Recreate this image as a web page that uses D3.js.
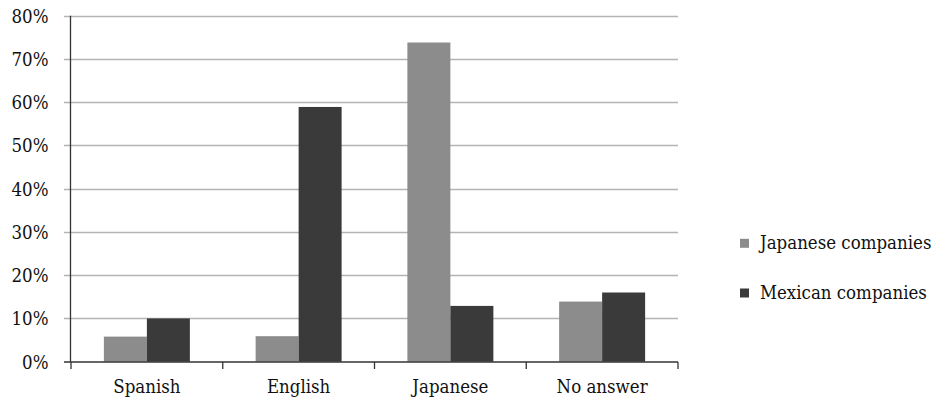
<!DOCTYPE html>
<html><head><meta charset="utf-8">
<script src="https://cdn.jsdelivr.net/npm/d3@7"></script>
<style>body{margin:0;background:#fff}svg{display:block}</style>
</head><body>
<script>
const categories = ["Spanish","English","Japanese","No answer"];
const seriesNames = ["Japanese companies","Mexican companies"];
const japaneseCompanies = [5.8, 5.9, 73.8, 13.9];
const mexicanCompanies = [10.0, 58.9, 12.9, 16.0];
const yTicks = [0,10,20,30,40,50,60,70,80];
const colors = ["#8c8c8c","#3a3a3a"];

const W=937,H=398;
const FS=18.5, SX=0.9;
const svg=d3.select("body").append("svg").attr("width",W).attr("height",H)
 .style("font-family","'DejaVu Serif', 'Liberation Serif', serif").attr("fill","#111");
const x=d3.scaleBand().domain(categories).range([71,678]).padding(0);
const y=d3.scaleLinear().domain([0,80]).range([361.7,15.7]);
const barW = x.bandwidth()*0.2833;

svg.append("g").selectAll("line").data(yTicks.filter(d=>d>0)).join("line")
 .attr("x1",64).attr("x2",678).attr("y1",d=>Math.round(y(d))+0.5).attr("y2",d=>Math.round(y(d))+0.5)
 .attr("stroke","#b4b4b4").attr("stroke-width",1.3);

const series=[japaneseCompanies,mexicanCompanies];
series.forEach((vals,si)=>{
 svg.append("g").selectAll("rect").data(categories).join("rect")
  .attr("x",(c)=>x(c)+x.bandwidth()/2+(si-1)*barW)
  .attr("width",barW)
  .attr("y",(c,i)=>y(vals[i]))
  .attr("height",(c,i)=>y(0)-y(vals[i]))
  .attr("fill",colors[si]);
});

svg.append("line").attr("x1",70.5).attr("x2",70.5).attr("y1",15.7).attr("y2",362).attr("stroke","#333").attr("stroke-width",1.3);
svg.append("line").attr("x1",64).attr("x2",678).attr("y1",362).attr("y2",362).attr("stroke","#333").attr("stroke-width",1.3);
const bounds=categories.map(c=>x(c)).concat([x.range()[1]]);
svg.append("g").selectAll("line").data(bounds).join("line")
 .attr("x1",d=>d).attr("x2",d=>d).attr("y1",362).attr("y2",369).attr("stroke","#333").attr("stroke-width",1.3);

svg.append("g").selectAll("text").data(yTicks).join("text")
 .attr("transform",d=>`translate(48.5,${y(d)+6.8}) scale(${SX},1)`)
 .attr("text-anchor","end").attr("font-size",FS).text(d=>d+"%");

svg.append("g").selectAll("text").data(categories).join("text")
 .attr("transform",c=>`translate(${x(c)+x.bandwidth()/2},393) scale(${SX},1)`)
 .attr("text-anchor","middle").attr("font-size",FS).text(c=>c);

const lg=svg.append("g");
seriesNames.forEach((n,i)=>{
 const ly=[243.3,293][i];
 lg.append("rect").attr("x",740).attr("y",ly-4.5).attr("width",9).attr("height",9).attr("fill",colors[i]);
 lg.append("text").attr("transform",`translate(760,${ly+5.8}) scale(${SX},1)`).attr("font-size",FS).text(n);
});
</script>
</body></html>
